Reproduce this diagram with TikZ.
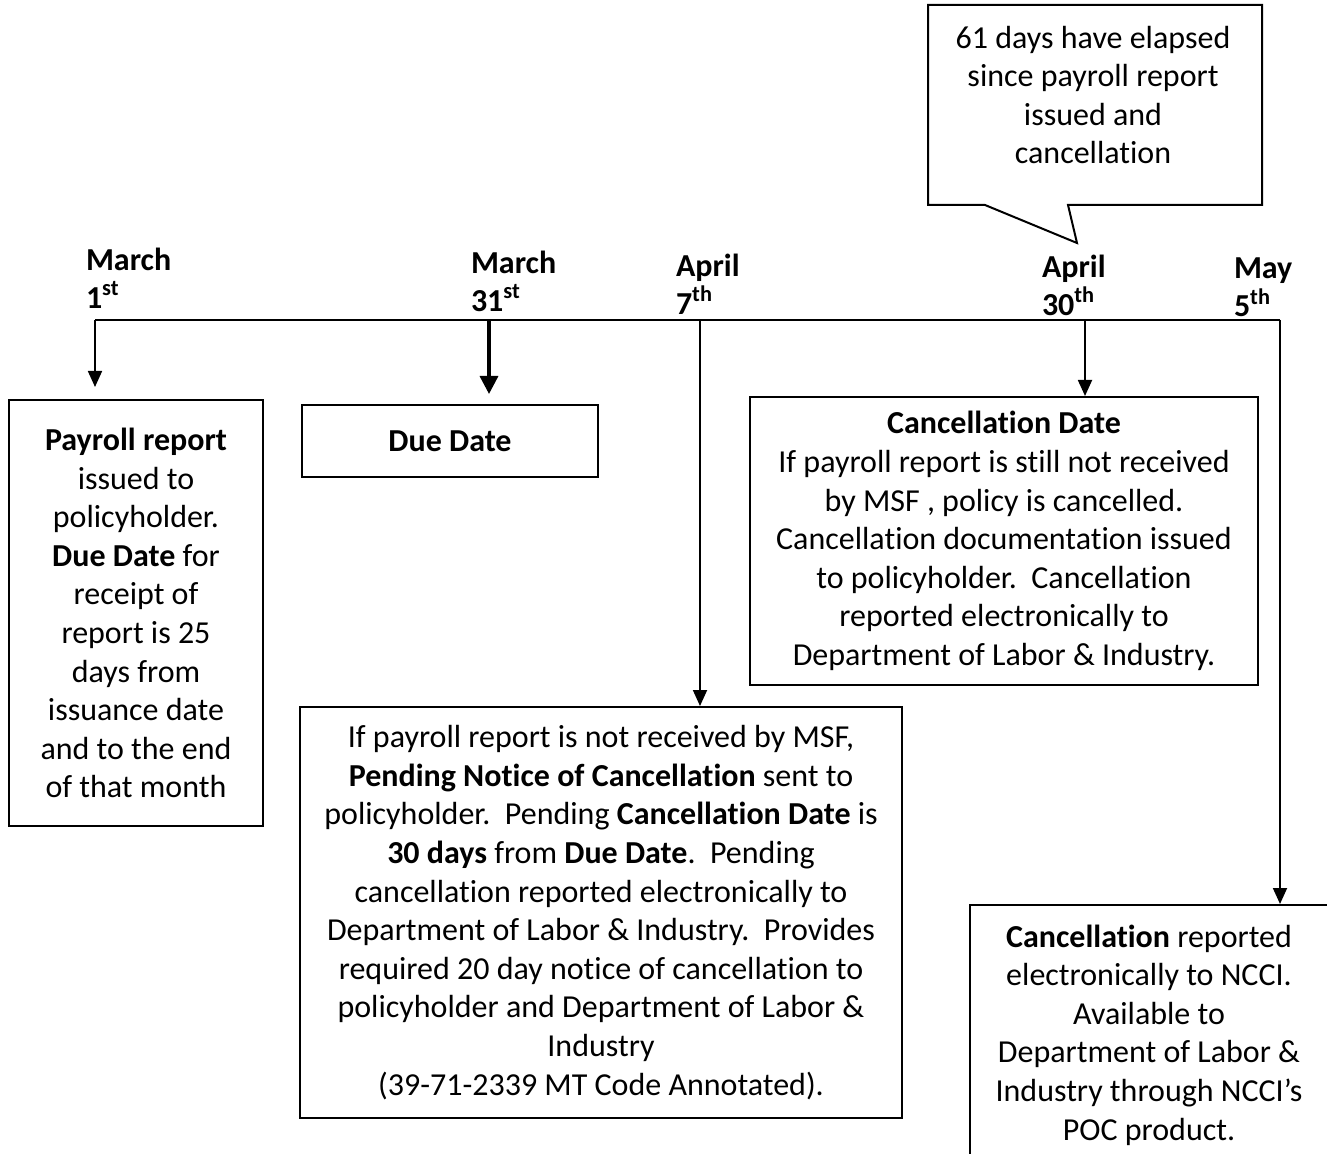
\documentclass[tikz,border=0pt]{standalone}
\usepackage{fontspec}
\setmainfont{Carlito}[Ligatures={NoCommon,NoContextual,NoRequired},Contextuals=NoAlternate]
\usetikzlibrary{arrows.meta}

\begin{document}
\begin{tikzpicture}[x=0.5pt,y=-0.5pt,line width=1pt,
    font=\fontsize{16}{19.3}\selectfont,
    box/.style={draw,align=center,inner sep=0pt},
    date/.style={align=left,anchor=north west,inner sep=0pt,font=\fontsize{16}{19}\selectfont\bfseries},
    arr/.style={-{Triangle[length=8pt,width=7pt]},line width=0.9pt},
    bigarr/.style={-{Triangle[length=9pt,width=9pt]},line width=1.7pt}]
  \clip (0,0) rectangle (1327,1154);
  % timeline
  \coordinate (t1) at (95,320);
  \coordinate (t2) at (489,320);
  \coordinate (t3) at (700,320);
  \coordinate (t4) at (1085,320);
  \coordinate (t5) at (1280,320);
  \draw[line width=1.2pt] (t1) -- (t5);
  \node[date] (m1)  at (85,247)   {March\\1\textsuperscript{st}};
  \node[date] (m31) at (470,250)  {March\\31\textsuperscript{st}};
  \node[date] (a7)  at (675,253)  {April\\7\textsuperscript{th}};
  \node[date] (a30) at (1041,254) {April\\30\textsuperscript{th}};
  \node[date] (my5) at (1233,257) {May\\5\textsuperscript{th}};
  % boxes
  \node[box,minimum width=127pt,minimum height=213pt] (b1) at (136,613)
    {\textbf{Payroll report}\\issued to\\policyholder.\\\textbf{Due Date} for\\receipt of\\report is 25\\days from\\issuance date\\and to the end\\of that month};
  \node[box,minimum width=148pt,minimum height=36pt] (b2) at (450,441) {\textbf{Due Date}};
  \node[box,minimum width=301pt,minimum height=205.5pt] (b3) at (601,912.5)
    {If payroll report is not received by MSF,\\
     \textbf{Pending Notice of Cancellation} sent to\\
     policyholder.~~Pending \textbf{Cancellation Date} is\\
     \textbf{30 days} from \textbf{Due Date}.~~Pending\\
     cancellation reported electronically to\\
     Department of Labor \& Industry.~~Provides\\
     required 20 day notice of cancellation to\\
     policyholder and Department of Labor \&\\
     Industry\\
     (39-71-2339 MT Code Annotated).};
  \node[box,minimum width=254pt,minimum height=144pt] (b4) at (1004,541)
    {\textbf{Cancellation Date}\\
     If payroll report is still not received\\
     by MSF , policy is cancelled.\\
     Cancellation documentation issued\\
     to policyholder.~~Cancellation\\
     reported electronically to\\
     Department of Labor \& Industry.};
  \node[box,minimum width=179pt,minimum height=130pt] (b5) at (1149,1035)
    {\textbf{Cancellation} reported\\
     electronically to NCCI.\\
     Available to\\
     Department of Labor \&\\
     Industry through NCCI’s\\
     POC product.};
  \draw[arr,shorten >=6pt] (t1) -- (b1.north -| t1);
  \draw[bigarr,shorten >=5pt] (t2) -- (b2.north -| t2);
  \draw[arr] (t3) -- (b3.north -| t3);
  \draw[arr] (t4) -- (b4.north -| t4);
  \draw[arr] (t5) -- (b5.north -| t5);
  % callout
  \coordinate (tip) at (1077,243);
  \draw (928,5) -- (1262,5) -- (1262,205) -- (1068,205) -- (tip) -- (985,205) -- (928,205) -- cycle;
  \node[align=center,inner sep=0pt] (call) at (1093,95)
    {61 days have elapsed\\since payroll report\\issued and\\cancellation};
\end{tikzpicture}
\end{document}
